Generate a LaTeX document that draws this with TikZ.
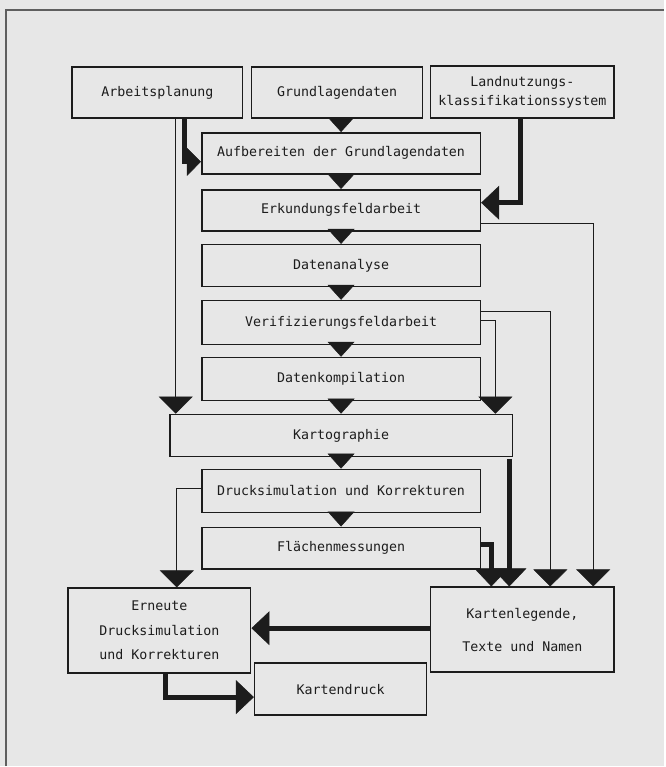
\documentclass[tikz,border=0pt]{standalone}
\usepackage{fontspec}
\newfontfamily\plotfont{DejaVu Sans Mono}
\usetikzlibrary{arrows.meta}
\definecolor{bg}{RGB}{231,231,231}
\definecolor{ink}{RGB}{28,28,28}
\definecolor{framec}{RGB}{95,95,95}
\begin{document}
\begin{tikzpicture}[x=1pt,y=-1pt,
  box/.style={draw=ink,line width=1.6pt,rectangle,inner sep=0pt,
    font=\plotfont\fontsize{13.3}{16}\selectfont,text=ink,align=center},
  cArr/.style={draw=ink,line width=1pt,-{Triangle[length=15pt,width=27pt,line width=0.5pt]}},
  sArr/.style={draw=ink,line width=1.1pt,-{Triangle[length=17pt,width=34pt,line width=0.5pt]}},
  tArr/.style={draw=ink,line width=5pt,-{Triangle[length=18pt,width=34pt,line width=0.5pt]}},
  tArrA/.style={draw=ink,line width=5pt,-{Triangle[length=14pt,width=28pt,line width=0.5pt]}}
]
\path[fill=bg] (0,0) rectangle (665,767);
\draw[framec,line width=2pt] (6,767) -- (6,10) -- (665,10);

% boxes
\node[box,minimum width=171pt,minimum height=51pt] (arb) at (157.5,92.5) {Arbeitsplanung};
\node[box,minimum width=171pt,minimum height=51pt] (grund) at (337.5,92.5) {Grundlagendaten};
\node[box,minimum width=184pt,minimum height=52pt] (land) at (523,92) {Landnutzungs-\\[3pt]klassifikationssystem};
\node[box,minimum width=279pt,minimum height=41pt] (aufb) at (341.5,153.5) {Aufbereiten der Grundlagendaten};
\node[box,minimum width=279pt,minimum height=41pt] (erk) at (341.5,210.5) {Erkundungsfeldarbeit};
\node[box,minimum width=279pt,minimum height=42pt] (dana) at (341.5,266) {Datenanalyse};
\node[box,minimum width=279pt,minimum height=44pt] (verif) at (341.5,323) {Verifizierungsfeldarbeit};
\node[box,minimum width=279pt,minimum height=43pt] (dkomp) at (341.5,379.5) {Datenkompilation};
\node[box,minimum width=343pt,minimum height=42pt] (karto) at (341.5,436) {Kartographie};
\node[box,minimum width=279pt,minimum height=43pt] (druck) at (341.5,491.5) {Drucksimulation und Korrekturen};
\node[box,minimum width=279pt,minimum height=42pt] (flaech) at (341.5,549) {Flächenmessungen};
\node[box,minimum width=183pt,minimum height=85pt] (ern) at (159.5,631.5) {Erneute\\[8.5pt]Drucksimulation\\[8.5pt]und Korrekturen};
\node[box,minimum width=184pt,minimum height=85pt] (leg) at (523,630.5) {Kartenlegende,\\[17pt]Texte und Namen};
\node[box,minimum width=172pt,minimum height=52pt] (kdruck) at (341,690) {Kartendruck};

% central chain
\draw[cArr] (aufb.north |- grund.south) -- (aufb.north);
\foreach \a/\b in {aufb/erk,erk/dana,dana/verif,verif/dkomp,dkomp/karto,karto/druck,druck/flaech}
  \draw[cArr] (\a.south) -- (\b.north);

% side connectors
\coordinate (p0) at (176,0);
\draw[sArr] (p0 |- arb.south) -- (p0 |- karto.north);
\coordinate (p1) at (184.5,162);
\draw[tArrA] (p1 |- arb.south) |- (aufb.west |- p1);
\coordinate (p2) at (521,203);
\draw[tArr] (p2 |- land.south) |- (erk.east |- p2);
\coordinate (p3) at (594,224);
\draw[sArr] (erk.east |- p3) -| (p3 |- leg.north);
\coordinate (p4) at (551,312);
\draw[sArr] (verif.east |- p4) -| (p4 |- leg.north);
\coordinate (p5) at (496,321);
\draw[sArr] (verif.east |- p5) -| (p5 |- karto.north);
\coordinate (p6) at (510,0);
\draw[tArr] ([yshift=-1.5pt]p6 |- karto.south) -- (p6 |- leg.north);
\coordinate (p7) at (492,545);
\draw[tArr] (flaech.east |- p7) -| (p7 |- leg.north);
\coordinate (p8) at (177,489);
\draw[sArr] (druck.west |- p8) -| (p8 |- ern.north);
\coordinate (p9) at (0,629);
\draw[tArr] (leg.west |- p9) -- (ern.east |- p9);
\coordinate (p10) at (166,698);
\draw[tArr] (p10 |- ern.south) |- (kdruck.west |- p10);
\end{tikzpicture}
\end{document}
